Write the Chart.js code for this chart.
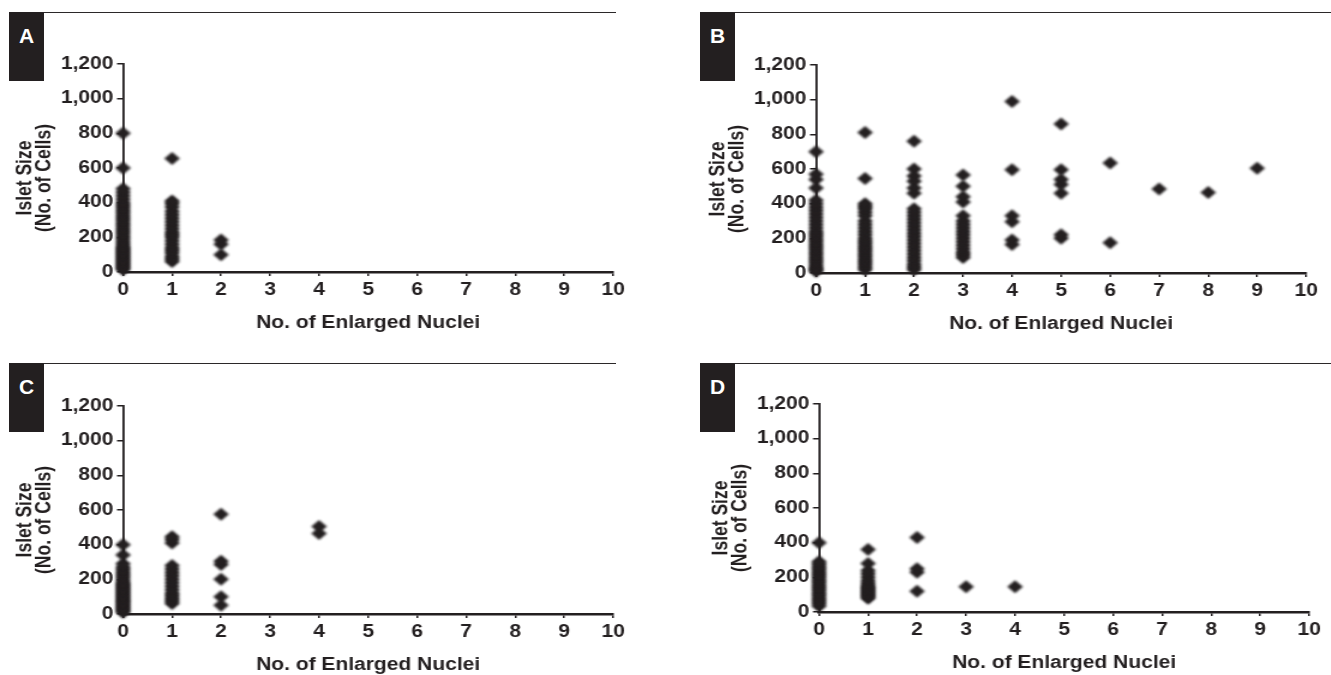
<!DOCTYPE html>
<html>
<head>
<meta charset="utf-8">
<script src="https://cdn.jsdelivr.net/npm/chart.js"></script>
<style>
  html, body { margin: 0; padding: 0; background: #fff; }
  #wrap { position: relative; width: 1331px; height: 675px; overflow: hidden; background: #fff; }
  .rule { position: absolute; height: 0; border-top: 1.3px solid #2b2829; }
  .tag {
    position: absolute; width: 35px; height: 69px; background: #231f20; color: #fff;
    font: bold 21px 'Liberation Sans', Arial, Helvetica, sans-serif; line-height: 21px;
    text-align: center; box-sizing: border-box; padding-top: 13px;
  }
  .panel { position: absolute; transform: scaleX(1.2); transform-origin: 0 0; }
</style>
</head>
<body>
<div id="wrap">
  <div class="rule" style="left:9px;top:12px;width:607px"></div>
  <div class="rule" style="left:700px;top:12px;width:631px"></div>
  <div class="rule" style="left:9px;top:363px;width:607px"></div>
  <div class="rule" style="left:700px;top:363px;width:631px"></div>

  <div class="panel" style="left:0px;top:0px"><canvas id="chartA" width="554" height="340"></canvas></div>
  <div class="panel" style="left:693px;top:1px"><canvas id="chartB" width="532" height="340"></canvas></div>
  <div class="panel" style="left:0px;top:342px"><canvas id="chartC" width="554" height="340"></canvas></div>
  <div class="panel" style="left:696px;top:340px"><canvas id="chartD" width="532" height="340"></canvas></div>

  <div class="tag" style="left:9px;top:12px">A</div>
  <div class="tag" style="left:700px;top:12px">B</div>
  <div class="tag" style="left:9px;top:363px">C</div>
  <div class="tag" style="left:700px;top:363px">D</div>
</div>

<script>
// islet sizes (no. of cells), one list per count of enlarged nuclei (index = count)
const sizesA = [
  [15, 25, 35, 45, 55, 65, 75, 85, 95, 105, 115, 125, 135, 145, 160, 175, 190, 205, 220, 235, 250,
   265, 280, 295, 310, 325, 340, 355, 370, 385, 400, 420, 440, 460, 480, 600, 800],
  [60, 75, 90, 110, 125, 140, 160, 180, 200, 215, 230, 250, 270, 290, 310, 330, 350, 375, 395, 410, 655],
  [100, 160, 185]
];
const sizesB = [
  [10, 20, 30, 45, 60, 75, 90, 105, 120, 135, 150, 165, 180, 195, 210, 225, 240, 260, 280, 300,
   320, 340, 360, 380, 400, 420, 490, 540, 570, 700],
  [20, 35, 50, 65, 80, 95, 110, 125, 140, 155, 170, 185, 200, 220, 240, 260, 280, 300, 330, 350,
   370, 385, 400, 545, 810],
  [20, 35, 50, 70, 90, 110, 130, 150, 170, 190, 210, 230, 250, 270, 290, 310, 330, 350, 370,
   460, 490, 530, 560, 600, 760],
  [90, 105, 120, 140, 160, 180, 200, 220, 240, 260, 280, 300, 330, 410, 440, 500, 565],
  [165, 190, 295, 330, 595, 990],
  [200, 220, 460, 510, 540, 595, 860],
  [175, 635],
  [485],
  [465],
  [605]
];
const sizesC = [
  [10, 20, 30, 40, 50, 60, 70, 80, 90, 100, 110, 120, 130, 140, 150, 160, 170, 180, 195, 210,
   225, 240, 255, 270, 290, 340, 400],
  [60, 75, 90, 105, 120, 140, 160, 180, 200, 220, 240, 260, 280, 410, 430, 445],
  [50, 100, 200, 285, 305, 575],
  [],
  [465, 505]
];
const sizesD = [
  [35, 50, 65, 80, 95, 110, 125, 140, 155, 170, 185, 200, 215, 230, 245, 260, 275, 290, 400],
  [80, 90, 100, 110, 120, 130, 140, 150, 165, 180, 200, 220, 240, 280, 360],
  [120, 230, 250, 430],
  [145],
  [145]
];

const nucleiTicks = [0, 1, 2, 3, 4, 5, 6, 7, 8, 9, 10];
const sizeTicks = [0, 200, 400, 600, 800, 1000, 1200];
const yTitle = ['Islet Size', '(No. of Cells)'];

const ink = '#231f20';
const family = "'Liberation Sans', Arial, Helvetica, sans-serif";
Chart.defaults.font.family = family;
Chart.defaults.font.weight = 'bold';
Chart.defaults.color = ink;

// markers in the original look slightly soft
const softMarks = {
  id: 'softMarks',
  beforeDatasetsDraw(chart) {
    chart.ctx.save();
    chart.ctx.filter = 'blur(1.1px)';
  },
  afterDatasetsDraw(chart) {
    chart.ctx.restore();
  }
};

// two-line y title, sitting a little below the middle of the axis like the original
const yTitlePlugin = {
  id: 'yTitlePlugin',
  afterDraw(chart) {
    const ctx = chart.ctx;
    const area = chart.chartArea;
    const mid = (area.top + area.bottom) / 2 + 10;
    ctx.save();
    ctx.fillStyle = ink;
    ctx.font = 'bold 17.5px ' + family;
    ctx.textAlign = 'center';
    ctx.textBaseline = 'middle';
    yTitle.forEach((line, i) => {
      ctx.save();
      ctx.translate(21.5 + i * 16, mid);
      ctx.rotate(-Math.PI / 2);
      ctx.fillText(line, 0, 0);
      ctx.restore();
    });
    ctx.restore();
  }
};

function toPoints(cols) {
  const pts = [];
  cols.forEach((ys, n) => ys.forEach(y => pts.push({ x: n, y: y })));
  return pts;
}

function makeChart(id, cols, rightPad) {
  const ctx = document.getElementById(id).getContext('2d');
  return new Chart(ctx, {
    type: 'scatter',
    data: {
      datasets: [{
        data: toPoints(cols),
        pointStyle: 'rectRot',
        pointRadius: 6.5,
        pointHoverRadius: 6.5,
        backgroundColor: ink,
        borderWidth: 0,
        clip: false
      }]
    },
    options: {
      responsive: false,
      animation: false,
      events: [],
      layout: { padding: { left: 0, right: rightPad, top: 64, bottom: 0 } },
      plugins: { legend: { display: false }, tooltip: { enabled: false } },
      scales: {
        x: {
          type: 'linear',
          min: nucleiTicks[0],
          max: nucleiTicks[nucleiTicks.length - 1],
          afterBuildTicks: (scale) => { scale.ticks = nucleiTicks.map(v => ({ value: v })); },
          afterFit: (scale) => { scale.height = 68; },
          ticks: { font: { size: 17.5, weight: 'bold' }, padding: 4, color: ink },
          grid: { drawOnChartArea: false, drawTicks: true, tickLength: 4, color: ink, lineWidth: 1.5 },
          border: { display: true, color: ink, width: 2.5 },
          title: {
            display: true,
            text: 'No. of Enlarged Nuclei',
            color: ink,
            font: { size: 17.5, weight: 'bold' },
            padding: { top: 0, bottom: 6.5 }
          }
        },
        y: {
          type: 'linear',
          min: sizeTicks[0],
          max: sizeTicks[sizeTicks.length - 1],
          afterBuildTicks: (scale) => { scale.ticks = sizeTicks.map(v => ({ value: v })); },
          afterFit: (scale) => { scale.width = 102.5; },
          ticks: {
            font: { size: 17.5, weight: 'bold' },
            padding: 3,
            color: ink,
            callback: (v) => v.toLocaleString('en-US')
          },
          grid: { drawOnChartArea: false, drawTicks: true, tickLength: 5, color: ink, lineWidth: 1.5 },
          border: { display: true, color: ink, width: 1.8 },
          title: { display: false }
        }
      }
    },
    plugins: [softMarks, yTitlePlugin]
  });
}

makeChart('chartA', sizesA, 43);
makeChart('chartB', sizesB, 21);
makeChart('chartC', sizesC, 43);
makeChart('chartD', sizesD, 21);
</script>
</body>
</html>
